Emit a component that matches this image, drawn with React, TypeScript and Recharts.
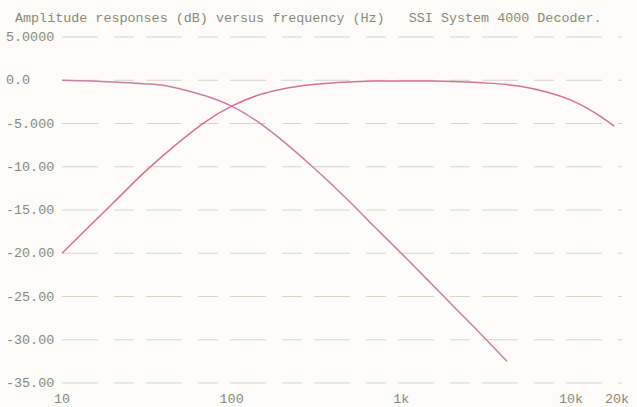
import React from "react";
import { LineChart, Line, XAxis, YAxis, CartesianGrid } from "recharts";

const title = "Amplitude responses (dB) versus frequency (Hz)   SSI System 4000 Decoder.";

const frequencies = [10, 15, 20, 30, 40, 50, 70, 100, 150, 200, 300, 500, 700, 1000, 1500, 2000, 3000, 4200, 5000, 7000, 10000, 15000, 18000];
const lowpassDb = [0, -0.1, -0.2, -0.4, -0.6, -1.0, -1.8, -3.0, -5.1, -7.0, -10.0, -14.1, -17.0, -20.0, -23.5, -26.0, -29.5, -32.5, null, null, null, null, null];
const highpassDb = [-20.0, -16.6, -14.2, -10.8, -8.6, -7.0, -4.8, -3.0, -1.6, -1.0, -0.5, -0.2, -0.1, -0.1, -0.1, -0.15, -0.3, -0.5, -0.7, -1.3, -2.3, -4.2, -5.3];

const xTicks = [10, 100, 1000, 10000, 20000];
const xTickLabels = ["10", "100", "1k", "10k", "20k"];
const yTicks = [5, 0, -5, -10, -15, -20, -25, -30, -35];
const yTickLabels = ["5.0000", "0.0", "-5.000", "-10.00", "-15.00", "-20.00", "-25.00", "-30.00", "-35.00"];

const data = frequencies.map((f, i) => ({ f, low: lowpassDb[i], high: highpassDb[i] }));

const FONT = "'Liberation Mono', 'DejaVu Sans Mono', monospace";
const TEXT = "#878b74";

const XTick = (props: any) => {
  const { x, y, payload } = props;
  const idx = xTicks.indexOf(payload.value);
  return (
    <text x={x} y={y + 18} textAnchor="middle" fontFamily={FONT} fontSize={13.4} fill={TEXT}>
      {idx >= 0 ? xTickLabels[idx] : ""}
    </text>
  );
};

const YTick = (props: any) => {
  const { x, y, payload } = props;
  const idx = yTicks.indexOf(payload.value);
  return (
    <text x={x - 54} y={y} dy={4} textAnchor="start" fontFamily={FONT} fontSize={13.4} fill={TEXT}>
      {idx >= 0 ? yTickLabels[idx] : ""}
    </text>
  );
};

export default function App() {
  return (
    <div style={{ position: "absolute", left: 0, top: 0, width: 637, height: 407, background: "#fdfcfa" }}>
      <div
        style={{
          position: "absolute",
          left: 15,
          top: 11,
          fontFamily: FONT,
          fontSize: 13.4,
          color: TEXT,
          whiteSpace: "pre",
          lineHeight: "16px",
        }}
      >
        {title}
      </div>
      <LineChart width={637} height={407} data={data} margin={{ top: 37, right: 15, bottom: 0, left: 0 }}>
        <CartesianGrid vertical={false} stroke="#d2d6c2" strokeDasharray="36 16 20 12" />
        <XAxis
          dataKey="f"
          type="number"
          scale="log"
          domain={[10, 20000]}
          ticks={xTicks}
          tick={<XTick />}
          tickLine={false}
          axisLine={false}
          tickSize={0}
          height={24}
          allowDataOverflow
        />
        <YAxis
          type="number"
          domain={[-35, 5]}
          ticks={yTicks}
          tick={<YTick />}
          tickLine={false}
          axisLine={false}
          tickSize={0}
          width={62}
        />
        <Line dataKey="low" type="monotone" stroke="#cc7f9f" strokeWidth={1.5} dot={false} isAnimationActive={false} connectNulls={false} />
        <Line dataKey="high" type="monotone" stroke="#dc6f90" strokeWidth={1.5} dot={false} isAnimationActive={false} />
      </LineChart>
    </div>
  );
}
